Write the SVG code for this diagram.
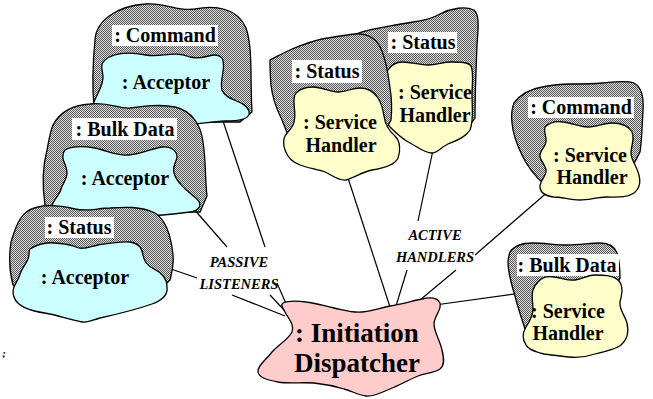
<svg xmlns="http://www.w3.org/2000/svg" width="653" height="399" viewBox="0 0 653 399">
  <defs>
    <!-- dithered grey fill used for the outer (role) blobs -->
    <pattern id="dither" width="2" height="2" patternUnits="userSpaceOnUse">
      <rect width="2" height="2" fill="#dcdcdc"/>
      <rect width="1" height="1" fill="#5a5a5a"/>
      <rect x="1" y="1" width="1" height="1" fill="#5a5a5a"/>
    </pattern>
  </defs>
  <style>
    .outer { fill: url(#dither); stroke: #000; stroke-width: 1.3; }
    .acc { fill: #ccffff; stroke: #000; stroke-width: 1.3; }
    .hdl { fill: #ffffcc; stroke: #000; stroke-width: 1.3; }
    .disp { fill: #ffcccc; stroke: #000; stroke-width: 1.3; }
    .tag { fill: #fff; }
    .conn line { stroke: #000; stroke-width: 1.2; }
    .t20 { font-size: 20px; }
    .t27 { font-size: 27px; }
    .lab { font-size: 14.5px; font-style: italic; }
  </style>

  <rect width="653" height="399" fill="#fff"/>

  <!-- connectors (broken where the group labels sit) -->
  <g id="connectors" class="conn">
    <line x1="222" y1="118" x2="265" y2="247"/>
    <line x1="277" y1="283" x2="287" y2="306"/>
    <line x1="193" y1="208" x2="227" y2="247"/>
    <line x1="270" y1="295" x2="284" y2="310"/>
    <line x1="171" y1="269" x2="197" y2="278"/>
    <line x1="232" y1="295" x2="285" y2="316"/>
    <line x1="348" y1="178" x2="391" y2="310"/>
    <line x1="433" y1="150" x2="418" y2="221"/>
    <line x1="407" y1="270" x2="396" y2="306"/>
    <line x1="550" y1="190" x2="475" y2="255"/>
    <line x1="456" y1="270" x2="420" y2="300"/>
    <line x1="435" y1="305" x2="521" y2="293"/>
  </g>

  <g font-family="'Liberation Serif', 'DejaVu Serif', serif" font-weight="bold" text-anchor="middle" fill="#000">

  <!-- group labels -->
  <g id="label-passive">
    <text class="lab" x="239" y="267">PASSIVE</text>
    <text class="lab" x="239" y="289">LISTENERS</text>
  </g>
  <g id="label-active">
    <text class="lab" x="435" y="240">ACTIVE</text>
    <text class="lab" x="435" y="262">HANDLERS</text>
  </g>

  <!-- passive side: acceptors -->
  <g id="command-acceptor">
    <path class="outer" d="M95,40 C96,20 118,6 145,4 C165,2 178,12 195,9 C215,5 238,8 246,28 C253,48 250,80 252,112 L240,122 L110,122 L94,108 C92,85 93,60 95,40 Z"/>
    <rect class="tag" x="112" y="25" width="106" height="21"/>
    <text class="t20" x="165" y="42">: Command</text>
    <path class="acc" d="M105,60 C114,52 130,52 146,55 C162,58 172,50 190,57 C205,61 214,50 222,58 C227,67 219,80 222,90 C226,101 245,100 249,111 C251,119 240,121 225,121 C208,122 192,125 175,125 L118,125 C104,122 95,115 91,110 C95,96 104,86 103,76 C102,68 100,64 105,60 Z"/>
    <text class="t20" x="166" y="89">: Acceptor</text>
  </g>

  <g id="bulk-acceptor">
    <path class="outer" d="M53,125 C60,112 72,105 90,104 C110,102 118,109 130,108 C145,106 160,104 175,107 C192,111 201,125 203,142 C206,160 205,180 207,196 L200,212 L60,212 L45,205 C42,185 43,165 47,150 C49,140 50,132 53,125 Z"/>
    <rect class="tag" x="72" y="118" width="105" height="22"/>
    <text class="t20" x="125" y="136">: Bulk Data</text>
    <path class="acc" d="M65,150 C72,146 83,146 95,148 C108,151 118,156 128,155 C140,154 150,149 162,147 C170,146 177,150 177,157 C176,163 172,167 174,173 C177,183 186,190 197,199 C203,205 199,211 190,212 C175,214 160,216 140,216 L70,214 L52,205 C55,198 60,194 61,189 C63,183 67,179 67,173 C67,166 62,160 63,156 C63,153 64,151 65,150 Z"/>
    <text class="t20" x="125" y="185">: Acceptor</text>
  </g>

  <g id="status-acceptor">
    <path class="outer" d="M17,225 C22,214 28,209 38,207 C50,204 62,206 75,209 C88,212 98,208 110,208 C125,207 140,206 155,213 C166,220 171,235 173,255 C174,265 172,272 170,280 L150,300 L30,300 L13,285 C9,270 9,255 11,242 C13,235 15,230 17,225 Z"/>
    <rect class="tag" x="45" y="217" width="69" height="21"/>
    <text class="t20" x="79" y="234">: Status</text>
    <path class="acc" d="M30,249 C38,244 46,242 55,243 C64,244 70,244 76,247 C82,250 88,247 98,245 C110,243 120,241 130,242 C138,243 142,247 143,255 C144,262 148,266 154,269 C162,273 167,278 167,287 C168,294 163,300 152,304 C135,310 118,314 100,318 C92,320 88,323 82,322 C70,320 60,316 50,314 C38,312 26,310 19,304 C13,299 12,292 14,287 C16,282 19,279 20,274 C22,268 26,264 28,259 C30,255 28,252 30,249 Z"/>
    <text class="t20" x="85" y="284">: Acceptor</text>
  </g>

  <!-- active side: service handlers -->
  <g id="status-handler-b">
    <path class="outer" d="M350,37 C360,31 378,28 395,25 C412,22 428,21 440,14 C452,8 465,6 474,10 C480,15 478,30 477,45 C476,70 475,95 475,118 L460,138 L385,120 L360,60 Z"/>
    <rect class="tag" x="388" y="32" width="69" height="21"/>
    <text class="t20" x="423" y="49">: Status</text>
    <path class="hdl" d="M388,70 C392,64 396,62 402,62 C412,62 420,65 428,65 C437,65 443,62 451,62 C460,62 468,62 471,66 C474,72 472,85 472,95 C472,108 474,120 470,130 C465,138 455,141 448,144 C440,148 437,153 432,153 C424,153 418,147 410,143 C402,139 395,132 390,127 C386,122 383,118 383,110 L383,75 Z"/>
    <text class="t20" x="435" y="99">: Service</text>
    <text class="t20" x="435" y="122">Handler</text>
  </g>

  <g id="status-handler-a">
    <path class="outer" d="M270,60 C278,56 285,52 292,49 C302,45 312,41 322,39 C334,37 345,35 355,34 C366,33 374,37 379,45 C385,55 388,72 390,88 C392,100 392,110 391,120 L380,140 L290,140 L282,120 C276,108 272,95 271,85 C270,75 270,67 270,60 Z"/>
    <rect class="tag" x="292" y="60" width="70" height="23"/>
    <text class="t20" x="327" y="78">: Status</text>
    <path class="hdl" d="M296,93 C300,89 306,87 313,87 C322,87 330,92 338,92 C346,92 352,88 360,88 C368,88 374,92 378,98 C382,104 383,110 384,116 C385,124 388,130 395,136 C400,141 401,150 398,158 C395,165 385,168 372,170 C362,172 354,178 346,180 C338,181 332,175 325,172 C316,169 308,168 300,165 C292,162 287,156 285,150 C283,144 283,140 285,136 C288,131 293,128 294,122 C296,115 294,108 294,102 C294,98 294,95 296,93 Z"/>
    <text class="t20" x="340" y="129">: Service</text>
    <text class="t20" x="341" y="152">Handler</text>
  </g>

  <g id="command-handler">
    <path class="outer" d="M514,103 C520,95 530,89 542,87 C552,85 560,84 570,84 C582,84 592,84 602,83 C614,82 625,80 634,83 C642,87 644,98 643,112 C642,125 642,140 640,152 L620,190 L545,185 C537,178 528,168 522,155 C517,145 513,135 512,123 C511,115 512,108 514,103 Z"/>
    <rect class="tag" x="528" y="97" width="106" height="21"/>
    <text class="t20" x="581" y="114">: Command</text>
    <path class="hdl" d="M545,127 C550,122 556,121 563,122 C572,123 579,127 588,127 C597,127 604,123 612,123 C620,123 628,125 632,132 C635,139 631,146 631,153 C631,160 636,165 638,172 C641,180 640,188 634,193 C627,198 617,197 607,197 C597,197 589,200 580,200 C570,200 562,197 553,197 C546,196 541,193 540,188 C539,182 545,178 546,172 C547,166 541,162 540,157 C539,151 545,148 546,142 C547,136 543,132 545,127 Z"/>
    <text class="t20" x="590" y="162">: Service</text>
    <text class="t20" x="592" y="184">Handler</text>
  </g>

  <g id="bulk-handler">
    <path class="outer" d="M510,252 C514,246 522,243 533,243 C545,243 556,245 567,245 C580,245 590,243 600,243 C608,243 614,245 617,253 C620,262 620,270 620,278 L610,300 L527,335 C522,320 518,308 515,296 C511,283 508,270 508,262 C508,258 509,255 510,252 Z"/>
    <rect class="tag" x="517" y="254" width="102" height="22"/>
    <text class="t20" x="567" y="272">: Bulk Data</text>
    <path class="hdl" d="M538,282 C542,277 548,276 554,277 C562,278 568,281 575,280 C583,279 588,275 595,275 C603,275 612,275 618,280 C624,286 622,294 620,302 C619,310 625,315 627,323 C629,332 627,340 621,345 C615,350 605,351 595,354 C586,357 578,358 569,357 C560,356 552,355 544,354 C536,352 529,350 526,345 C522,339 523,332 526,327 C530,321 533,316 533,309 C533,302 531,296 533,290 C534,286 536,284 538,282 Z"/>
    <text class="t20" x="568" y="318">: Service</text>
    <text class="t20" x="568" y="340">Handler</text>
  </g>

  <!-- the dispatcher every connector runs into -->
  <g id="initiation-dispatcher">
    <path class="disp" d="M283,303 C290,300 298,301 306,302 C316,303 324,306 334,308 C344,310 352,313 362,312 C372,311 380,308 390,306 C402,304 412,301 422,299 C430,297 437,297 440,303 C442,310 434,316 434,324 C434,332 440,340 442,350 C444,358 445,365 440,369 C434,373 426,373 418,376 C408,380 400,385 390,389 C382,392 374,397 366,396 C358,395 352,391 344,389 C334,386 324,384 314,383 C302,382 290,384 278,382 C268,380 259,378 258,372 C257,366 266,360 272,352 C278,345 288,340 292,332 C295,325 288,318 285,312 C283,308 280,305 283,303 Z"/>
    <text class="t27" x="357" y="342">: Initiation</text>
    <text class="t27" x="357" y="372">Dispatcher</text>
  </g>

  <text x="4" y="357" font-size="11" font-style="italic">;</text>
  </g>
</svg>
